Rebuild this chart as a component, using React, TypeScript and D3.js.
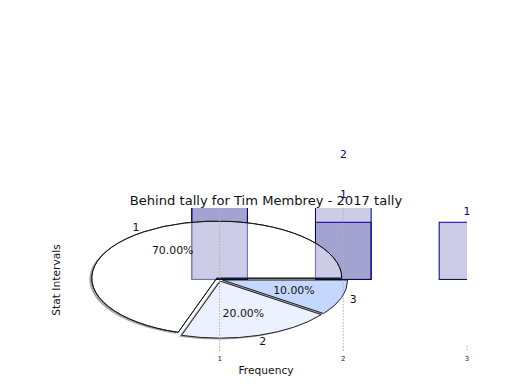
import React from "react";
import * as d3 from "d3";

// pie data
const sliceValues = [70, 20, 10];
const sliceLabels = ["1", "2", "3"];
const sliceColors = ["#ffffff", "#ebf1ff", "#c4d8ff"];

// histogram-ish bars (two overlapping series)
const binCenters = [1, 2, 3];
const countsA = [3, 2, 1];
const countsB = [3, 1, 0];
const labelsA = ["", "2", "1"];
const labelsB = ["", "1", ""];
const xTicks = [1, 2, 3];

const title = "Behind tally for Tim Membrey - 2017 tally";
const xLabel = "Frequency";
const yLabel = "Stat Intervals";

const W = 520;
const H = 390;
const plot = { left: 65, right: 467, top: 208, bottom: 352 };
const font = "DejaVu Sans, sans-serif";

const App = () => {
  const x = d3.scaleLinear().domain([-0.25, 3]).range([plot.left, plot.right]);
  const y = d3.scaleLinear().domain([-1.27, 1.25]).range([plot.bottom, plot.top]);
  const barW = x(0.45) - x(0);

  // elliptical pie
  const cx = 219;
  const cy = 279.5;
  const rx = 125;
  const ry = 57;
  const explode = 0.03;
  const arcs = d3.pie<number>().sort(null).startAngle(0).endAngle(2 * Math.PI)(sliceValues);

  const pt = (a: number, r = 1): [number, number] => [
    cx + r * rx * Math.cos(a),
    cy - r * ry * Math.sin(a),
  ];

  const wedges = arcs.map((d, i) => {
    const mid = (d.startAngle + d.endAngle) / 2;
    const ox = explode * rx * Math.cos(mid);
    const oy = -explode * ry * Math.sin(mid);
    const [x0, y0] = pt(d.startAngle);
    const [x1, y1] = pt(d.endAngle);
    const large = d.endAngle - d.startAngle > Math.PI ? 1 : 0;
    const path = (dx: number, dy: number) =>
      `M${cx + ox + dx},${cy + oy + dy}L${x0 + ox + dx},${y0 + oy + dy}` +
      `A${rx},${ry} 0 ${large} 0 ${x1 + ox + dx},${y1 + oy + dy}Z`;
    const [px, py] = pt(mid, 0.6);
    const [lx, ly] = pt(mid, 1.1);
    return {
      i,
      d: path(0, 0),
      shadow: path(-2.5, 1.3),
      pct: ((d.value / d3.sum(sliceValues)) * 100).toFixed(2) + "%",
      px: px + ox,
      py: py + oy,
      lx: lx + ox,
      ly: ly + oy,
    };
  });

  const bars = (counts: number[]) =>
    counts.map((c, i) =>
      c > 0 ? (
        <rect
          key={i}
          x={x(binCenters[i]) - barW / 2}
          y={y(c)}
          width={barW}
          height={y(0) - y(c)}
          fill="rgba(0,0,128,0.2)"
          stroke="#000080"
          strokeWidth={1}
        />
      ) : null
    );

  return (
    <svg width={W} height={H} style={{ position: "absolute", left: 0, top: 0 }} fontFamily={font}>
      <defs>
        <clipPath id="plotClip">
          <rect x={plot.left} y={plot.top} width={plot.right - plot.left} height={plot.bottom - plot.top} />
        </clipPath>
      </defs>
      <rect width={W} height={H} fill="#fff" />

      {/* pie shadows + opaque fills */}
      {wedges.map((w) => (
        <path key={"s" + w.i} d={w.shadow} fill="#4d4d4d" opacity={0.5} />
      ))}
      {wedges.map((w) => (
        <path key={"f" + w.i} d={w.d} fill={sliceColors[w.i]} stroke="#222" strokeWidth={1} />
      ))}

      {/* bars */}
      <g clipPath="url(#plotClip)">
        {bars(countsA)}
        {bars(countsB)}
      </g>

      {/* semi transparent big wedge over bars */}
      <path d={wedges[0].d} fill="#fff" fillOpacity={0.45} stroke="#111" strokeWidth={1} />

      {/* grid + ticks */}
      <g stroke="#b0b0b0" strokeWidth={1} strokeDasharray="1.5,1.5">
        {xTicks
          .filter((t) => x(t) < plot.right - 1)
          .map((t) => (
            <line key={t} x1={x(t)} x2={x(t)} y1={plot.top} y2={plot.bottom} />
          ))}
        {xTicks.map((t) => (
          <line key={"t" + t} x1={x(t)} x2={x(t)} y1={plot.bottom - 6} y2={plot.bottom} />
        ))}
      </g>
      {xTicks.map((t) => (
        <text key={"l" + t} x={x(t)} y={plot.bottom + 9} fontSize={7} textAnchor="middle" fill="#222">
          {t}
        </text>
      ))}

      {/* pie labels */}
      {wedges.map((w) => (
        <g key={"l" + w.i} fontSize={10.9} fill="#111" textAnchor="middle">
          <text x={w.px} y={w.py} dy="0.35em">{w.pct}</text>
          <text x={w.lx} y={w.ly} dy="0.35em">{sliceLabels[w.i]}</text>
        </g>
      ))}

      {/* bar value labels */}
      <g fontSize={10.7} fill="#000080" textAnchor="middle">
        {labelsA.map((l, i) =>
          l ? (
            <text key={"a" + i} x={x(binCenters[i])} y={y(countsA[i]) - 7}>{l}</text>
          ) : null
        )}
        {labelsB.map((l, i) =>
          l ? (
            <text key={"b" + i} x={x(binCenters[i])} y={y(countsB[i]) - 24}>{l}</text>
          ) : null
        )}
      </g>

      <text x={(plot.left + plot.right) / 2} y={204.5} fontSize={13.1} textAnchor="middle" fill="#111">
        {title}
      </text>
      <text x={(plot.left + plot.right) / 2} y={374} fontSize={10.7} textAnchor="middle" fill="#111">
        {xLabel}
      </text>
      <text
        transform={`translate(60,${(plot.top + plot.bottom) / 2}) rotate(-90)`}
        fontSize={10.7}
        textAnchor="middle"
        fill="#111"
      >
        {yLabel}
      </text>
    </svg>
  );
};

export default App;
